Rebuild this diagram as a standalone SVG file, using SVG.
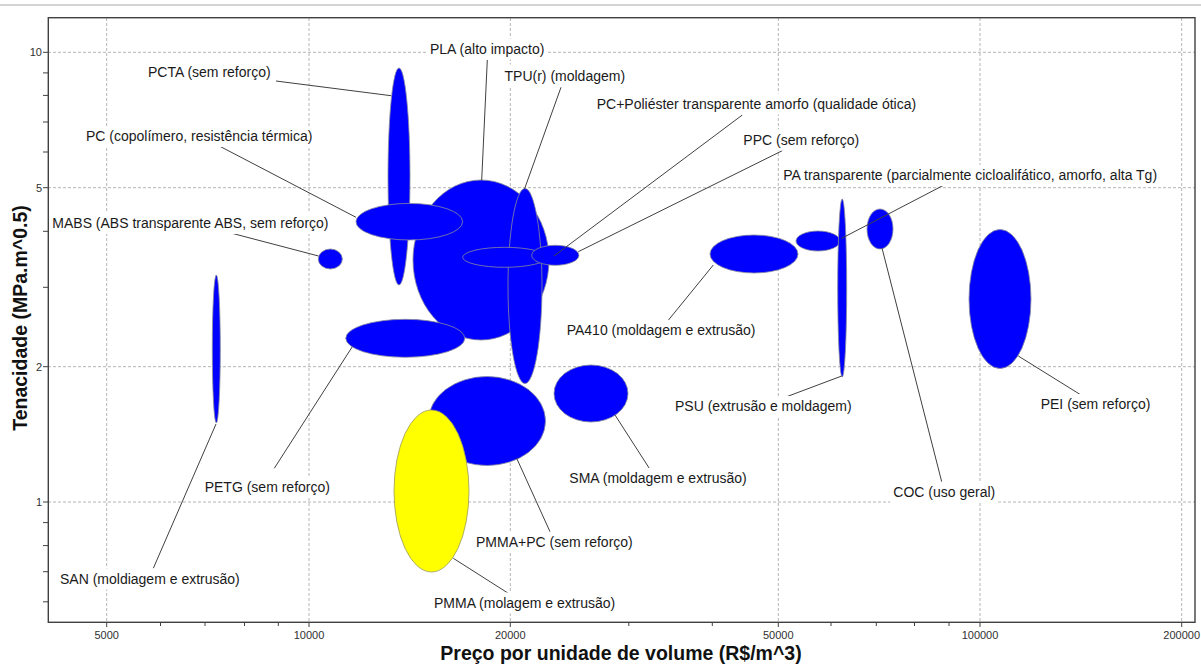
<svg xmlns="http://www.w3.org/2000/svg" width="1201" height="664" viewBox="0 0 1201 664">
<style>
.grid{stroke:#b4b4b4;stroke-width:1;stroke-dasharray:3,2;fill:none}
.axis{stroke:#404040;stroke-width:1.4;fill:none}
.tick{stroke:#404040;stroke-width:1}
.tl{font-family:"Liberation Sans",Arial,sans-serif;font-size:11px;fill:#303030}
.title{font-family:"Liberation Sans",Arial,sans-serif;font-size:19.5px;font-weight:bold;fill:#111}
.bub{fill:#0000ff;stroke:#8a8a9a;stroke-width:0.8}
.yel{fill:#ffff00;stroke:#9a9a60;stroke-width:0.8}
.lead{stroke:#404040;stroke-width:1;fill:none}
.lbg{fill:#ffffff}
.lbl{font-family:"Liberation Sans",Arial,sans-serif;font-size:14px;fill:#1a1a1a}
</style>
<rect x="0" y="0" width="1201" height="664" fill="#ffffff"/>
<line x1="0" y1="5" x2="1201" y2="5" stroke="#a8a8a8" stroke-width="1"/>
<g id="grid">
<line class="grid" x1="106.7" y1="18" x2="106.7" y2="622"/>
<line class="grid" x1="309" y1="18" x2="309" y2="622"/>
<line class="grid" x1="510.3" y1="18" x2="510.3" y2="622"/>
<line class="grid" x1="778.3" y1="18" x2="778.3" y2="622"/>
<line class="grid" x1="980" y1="18" x2="980" y2="622"/>
<line class="grid" x1="1181.7" y1="18" x2="1181.7" y2="622"/>
<line class="grid" x1="48" y1="52.3" x2="1195" y2="52.3"/>
<line class="grid" x1="48" y1="187.7" x2="1195" y2="187.7"/>
<line class="grid" x1="48" y1="366.7" x2="1195" y2="366.7"/>
<line class="grid" x1="48" y1="502" x2="1195" y2="502"/>
</g>
<g id="axes">
<rect class="axis" x="48.3" y="17.7" width="1146.7" height="604.6"/>
<g class="tick">
<line x1="43" y1="52.3" x2="48" y2="52.3"/>
<line x1="43" y1="72.9" x2="48" y2="72.9"/>
<line x1="43" y1="95.4" x2="48" y2="95.4"/>
<line x1="43" y1="122" x2="48" y2="122"/>
<line x1="43" y1="152" x2="48" y2="152"/>
<line x1="43" y1="187.7" x2="48" y2="187.7"/>
<line x1="43" y1="231.3" x2="48" y2="231.3"/>
<line x1="43" y1="287.3" x2="48" y2="287.3"/>
<line x1="43" y1="366.7" x2="48" y2="366.7"/>
<line x1="43" y1="502" x2="48" y2="502"/>
<line x1="43" y1="522.6" x2="48" y2="522.6"/>
<line x1="43" y1="545.6" x2="48" y2="545.6"/>
<line x1="43" y1="571.7" x2="48" y2="571.7"/>
<line x1="43" y1="601.8" x2="48" y2="601.8"/>
<line x1="106.7" y1="622" x2="106.7" y2="627"/>
<line x1="160.5" y1="622" x2="160.5" y2="626"/>
<line x1="205" y1="622" x2="205" y2="626"/>
<line x1="244.5" y1="622" x2="244.5" y2="626"/>
<line x1="278.3" y1="622" x2="278.3" y2="626"/>
<line x1="309" y1="622" x2="309" y2="627"/>
<line x1="510.3" y1="622" x2="510.3" y2="627"/>
<line x1="628.8" y1="622" x2="628.8" y2="626"/>
<line x1="712.3" y1="622" x2="712.3" y2="626"/>
<line x1="778.3" y1="622" x2="778.3" y2="627"/>
<line x1="831" y1="622" x2="831" y2="626"/>
<line x1="876.3" y1="622" x2="876.3" y2="626"/>
<line x1="914.5" y1="622" x2="914.5" y2="626"/>
<line x1="949" y1="622" x2="949" y2="626"/>
<line x1="980" y1="622" x2="980" y2="627"/>
<line x1="1181.7" y1="622" x2="1181.7" y2="627"/>
</g>
<g class="tl" text-anchor="end">
<text x="42" y="56">10</text>
<text x="42" y="191.5">5</text>
<text x="42" y="370.5">2</text>
<text x="42" y="505.7">1</text>
</g>
<g class="tl" text-anchor="middle">
<text x="106.7" y="638.7">5000</text>
<text x="309" y="638.7">10000</text>
<text x="510.3" y="638.7">20000</text>
<text x="778.3" y="638.7">50000</text>
<text x="980" y="638.7">100000</text>
<text x="1181.7" y="638.7">200000</text>
</g>
<text class="title" x="621" y="659.5" text-anchor="middle">Preço por unidade de volume (R$/m^3)</text>
<text class="title" x="26.5" y="318" text-anchor="middle" transform="rotate(-90 26.5 318)">Tenacidade (MPa.m^0.5)</text>
</g>
<g id="bubbles">
<ellipse id="san" class="bub" cx="216.3" cy="349" rx="4" ry="74"/>
<ellipse id="mabs" class="bub" cx="330.3" cy="259" rx="12" ry="10"/>
<ellipse id="pcta" class="bub" cx="399" cy="176.5" rx="11" ry="108.5"/>
<ellipse id="pla" class="bub" cx="481" cy="260" rx="68" ry="80"/>
<ellipse id="pc" class="bub" cx="409.3" cy="221.7" rx="53.3" ry="18.3"/>
<ellipse id="petg" class="bub" cx="405.3" cy="338.3" rx="59.5" ry="19"/>
<ellipse id="tpu" class="bub" cx="525" cy="286" rx="17" ry="97.5"/>
<ellipse id="pcpol" class="bub" cx="504.7" cy="257.3" rx="42" ry="10"/>
<ellipse id="ppc" class="bub" cx="555.3" cy="255.3" rx="23.6" ry="10"/>
<ellipse id="pmmapc" class="bub" cx="487" cy="421" rx="58.5" ry="44.5"/>
<ellipse id="pmma" class="yel" cx="431.5" cy="491" rx="37.5" ry="81"/>
<ellipse id="sma" class="bub" cx="591" cy="393.5" rx="37" ry="28.5"/>
<ellipse id="pa410" class="bub" cx="754" cy="254" rx="44" ry="19"/>
<ellipse id="patr" class="bub" cx="818" cy="241" rx="22" ry="10"/>
<ellipse id="psu" class="bub" cx="842.2" cy="288" rx="4.5" ry="89"/>
<ellipse id="coc" class="bub" cx="880" cy="229" rx="13" ry="20"/>
<ellipse id="pei" class="bub" cx="1000" cy="299" rx="31" ry="69.5"/>
</g>
<g id="connectors" class="lead">
<line x1="276" y1="81" x2="391" y2="95.7"/>
<line x1="219.3" y1="146" x2="356" y2="217.3"/>
<line x1="229.7" y1="232.7" x2="318.5" y2="256"/>
<line x1="487.3" y1="60" x2="481.7" y2="180"/>
<line x1="561" y1="87.3" x2="524.5" y2="189"/>
<line x1="742.3" y1="115" x2="554" y2="256"/>
<line x1="782.3" y1="150.7" x2="578.3" y2="251.7"/>
<line x1="951.7" y1="181" x2="841.7" y2="238.3"/>
<line x1="667.7" y1="321" x2="713.3" y2="265"/>
<line x1="786.7" y1="396.7" x2="841.7" y2="376"/>
<line x1="649.3" y1="468.3" x2="615" y2="415"/>
<line x1="941.7" y1="481.7" x2="882" y2="248"/>
<line x1="1081" y1="395" x2="1018.3" y2="356"/>
<line x1="274.3" y1="468.3" x2="352.3" y2="346.7"/>
<line x1="153.3" y1="568.3" x2="216" y2="424"/>
<line x1="550" y1="531.7" x2="516.7" y2="458.3"/>
<line x1="508.3" y1="593.3" x2="453.3" y2="558.3"/>
</g>
<g id="label-pcta"><rect class="lbg" x="145" y="62" width="131" height="21"/><text class="lbl" x="148" y="77">PCTA (sem reforço)</text></g>
<g id="label-pc"><rect class="lbg" x="83" y="126" width="235" height="21"/><text class="lbl" x="86" y="141">PC (copolímero, resistência térmica)</text></g>
<g id="label-mabs"><rect class="lbg" x="49.5" y="213" width="283" height="21"/><text class="lbl" x="52.3" y="228">MABS (ABS transparente ABS, sem reforço)</text></g>
<g id="label-pla"><rect class="lbg" x="427" y="38.5" width="120" height="21"/><text class="lbl" x="430" y="54">PLA (alto impacto)</text></g>
<g id="label-tpu"><rect class="lbg" x="501.5" y="64.5" width="125" height="22"/><text class="lbl" x="504.5" y="80.5">TPU(r) (moldagem)</text></g>
<g id="label-pcpol"><rect class="lbg" x="593.7" y="93.5" width="326" height="21"/><text class="lbl" x="596.7" y="108.5">PC+Poliéster transparente amorfo (qualidade ótica)</text></g>
<g id="label-ppc"><rect class="lbg" x="740.3" y="129.5" width="133" height="21"/><text class="lbl" x="743.3" y="144.5">PPC (sem reforço)</text></g>
<g id="label-patr"><rect class="lbg" x="780.3" y="165" width="382" height="21"/><text class="lbl" x="783.3" y="180">PA transparente (parcialmente cicloalifático, amorfo, alta Tg)</text></g>
<g id="label-pa410"><rect class="lbg" x="563.7" y="320" width="192" height="21"/><text class="lbl" x="566.7" y="335">PA410 (moldagem e extrusão)</text></g>
<g id="label-psu"><rect class="lbg" x="672" y="396" width="180" height="21"/><text class="lbl" x="675" y="411">PSU (extrusão e moldagem)</text></g>
<g id="label-sma"><rect class="lbg" x="566.3" y="468" width="181" height="21"/><text class="lbl" x="569.3" y="483">SMA (moldagem e extrusão)</text></g>
<g id="label-coc"><rect class="lbg" x="890.3" y="482" width="108" height="21"/><text class="lbl" x="893.3" y="497">COC (uso geral)</text></g>
<g id="label-pei"><rect class="lbg" x="1037.7" y="394" width="118" height="21"/><text class="lbl" x="1040.7" y="409">PEI (sem reforço)</text></g>
<g id="label-petg"><rect class="lbg" x="201.7" y="477" width="133" height="21"/><text class="lbl" x="204.7" y="492">PETG (sem reforço)</text></g>
<g id="label-san"><rect class="lbg" x="57" y="568.5" width="183" height="21"/><text class="lbl" x="60" y="583.5">SAN (moldiagem e extrusão)</text></g>
<g id="label-pmmapc"><rect class="lbg" x="473" y="532" width="164" height="21"/><text class="lbl" x="476" y="547">PMMA+PC (sem reforço)</text></g>
<g id="label-pmma"><rect class="lbg" x="431" y="592.5" width="184" height="21"/><text class="lbl" x="434" y="607.5">PMMA (molagem e extrusão)</text></g>
</svg>
